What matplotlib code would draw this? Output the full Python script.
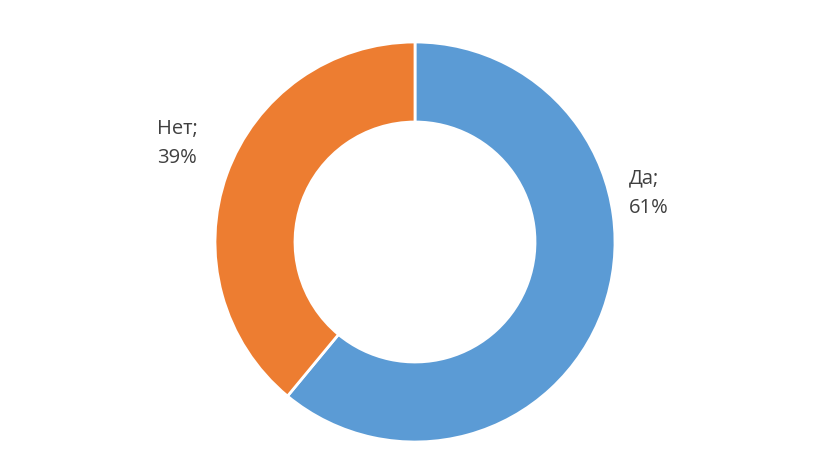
import matplotlib
matplotlib.use("Agg")
import matplotlib.pyplot as plt

categories = ["Да", "Нет"]
values = [61, 39]
colors = ["#5B9BD5", "#ED7D31"]

W, H = 823, 474
fig = plt.figure(figsize=(W / 100, H / 100), dpi=100)
ax = fig.add_axes([0, 0, 1, 1])
cx, cy, R = 415, 242, 200
ax.pie(values, colors=colors, startangle=90, counterclock=False,
       radius=1.0, wedgeprops=dict(width=0.4, edgecolor="white", linewidth=2))
ax.set_xlim(-cx / R, (W - cx) / R)
ax.set_ylim((cy - H) / R, cy / R)
ax.set_aspect("auto")
ax.axis("off")

label_pos = {"Да": (629, 193), "Нет": (157, 143)}
for cat, val in zip(categories, values):
    px, py = label_pos[cat]
    ax.text((px - cx) / R, (cy - py) / R, f"{cat};\n{val}%", ha="left", va="center",
            fontsize=14.5, color="#404040", linespacing=1.6,
            family=["Open Sans", "DejaVu Sans"])

fig.savefig("out.png", dpi=100, facecolor="white")
